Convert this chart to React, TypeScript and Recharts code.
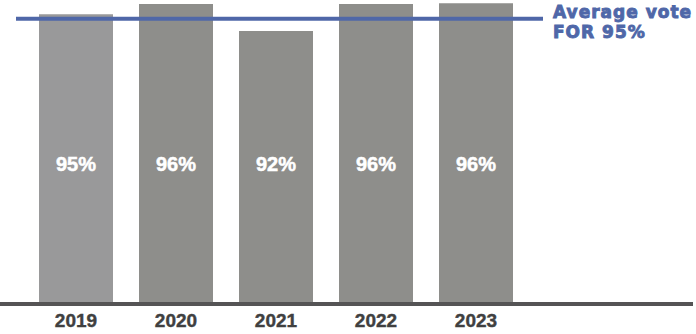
import { Bar, BarChart, Cell, LabelList, ReferenceLine, XAxis, YAxis } from "recharts";

const years = ["2019", "2020", "2021", "2022", "2023"];
const voteFor = [95.1, 96.7, 92.5, 96.7, 96.8];
const voteLabels = ["95%", "96%", "92%", "96%", "96%"];
const averageVote = 94.4;
const averageText = ["Average vote", "FOR 95%"];

const BAR_COLORS = ["#99999a", "#8e8e8b", "#8e8e8b", "#8e8e8b", "#8e8e8b"];
const BLUE = "#4f67a8";

const data = years.map((year, i) => ({ year, vote: voteFor[i], label: voteLabels[i] }));

interface LineShapeProps {
  x1?: number;
  x2?: number;
  y1?: number;
  y2?: number;
}

function AverageLine({ x1 = 0, x2 = 0, y1 = 0 }: LineShapeProps) {
  const textX = x2 - 140;
  return (
    <g>
      <line x1={x1 + 16} x2={x2 - 150} y1={y1} y2={y1} stroke={BLUE} strokeWidth={4} />
      <text
        x={textX}
        y={y1}
        fill={BLUE}
        stroke={BLUE}
        strokeWidth={0.9}
        fontFamily="DejaVu Sans, sans-serif"
        fontWeight="bold"
        fontSize={17}
        letterSpacing={1}
      >
        <tspan x={textX} dy={-0.4}>
          {averageText[0]}
        </tspan>
        <tspan x={textX} dy={19.2}>
          {averageText[1]}
        </tspan>
      </text>
    </g>
  );
}

interface BarLabelProps {
  x?: number;
  y?: number;
  width?: number;
  height?: number;
  index?: number;
}

function BarLabel({ x = 0, y = 0, width = 0, height = 0, index = 0 }: BarLabelProps) {
  return (
    <text
      x={x + width / 2}
      y={y + height - 133.3}
      textAnchor="middle"
      fill="#ffffff"
      stroke="#ffffff"
      strokeWidth={0.5}
      fontFamily="Liberation Sans, Arial, sans-serif"
      fontWeight="bold"
      fontSize={20}
    >
      {voteLabels[index]}
    </text>
  );
}

export default function App() {
  return (
    <div style={{ width: 696, height: 334, background: "#fff" }}>
      <style>{"body{margin:0}"}</style>
      <BarChart
        width={696}
        height={334}
        data={data}
        margin={{ top: 2, right: 3, bottom: 0, left: 0 }}
        barSize={74}
      >
        <XAxis
          dataKey="year"
          height={30}
          padding={{ left: 26, right: 167 }}
          axisLine={{ stroke: "#555455", strokeWidth: 4 }}
          tickLine={false}
          tickMargin={4}
          tick={{
            fill: "#404040",
            stroke: "#404040",
            strokeWidth: 0.4,
            fontSize: 19,
            fontWeight: "bold",
            fontFamily: "Liberation Sans, Arial, sans-serif",
          }}
        />
        <YAxis hide domain={[50, 97]} allowDataOverflow />
        <Bar dataKey="vote" isAnimationActive={false}>
          {data.map((d, i) => (
            <Cell key={d.year} fill={BAR_COLORS[i]} />
          ))}
          <LabelList dataKey="label" content={<BarLabel />} />
        </Bar>
        <ReferenceLine y={averageVote} shape={<AverageLine />} />
      </BarChart>
    </div>
  );
}
